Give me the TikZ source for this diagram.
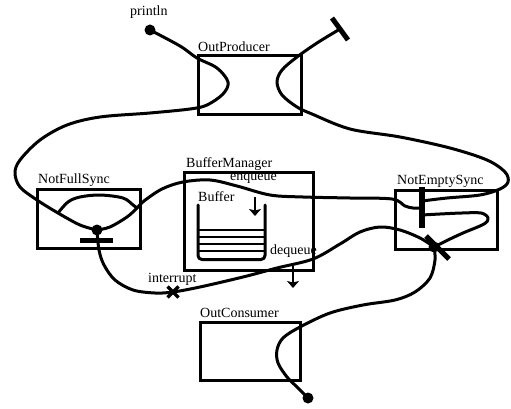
\documentclass[tikz,border=0pt]{standalone}
\usepackage{fontspec}
\setmainfont{Liberation Serif}
\usetikzlibrary{arrows.meta,calc}
\begin{document}
\begin{tikzpicture}[x=1pt,y=-1pt,
  wire/.style={line width=3pt, line cap=round, line join=round},
  frame/.style={draw, line width=3pt, inner sep=0pt, outer sep=0pt},
  lbl/.style={inner sep=0pt, font=\fontsize{14}{16}\selectfont},
  dot/.style={circle, fill, inner sep=0pt, minimum size=11pt},
  barline/.style={line width=5pt},
  flow/.style={line width=2.6pt, -{Stealth[length=7pt,width=12pt,inset=1.5pt]}},
  curve/.style={wire, smooth, tension=0.55}
]
\useasboundingbox (0,0) rectangle (511,409);

% ---- boxes ----
\node[frame, minimum width=103pt, minimum height=59pt] (prod) at (249.5,85.5) {};
\node[frame, minimum width=103pt, minimum height=59pt] (full) at (88.5,218.5) {};
\node[frame, minimum width=129pt, minimum height=98pt] (bufm) at (248.5,221) {};
\node[frame, minimum width=102pt, minimum height=59pt] (empty) at (446,219.5) {};
\node[frame, minimum width=100pt, minimum height=58pt] (cons) at (250,351) {};

% ---- box titles ----
\node[lbl, anchor=base west] at (198,52) {OutProducer};
\node[lbl, anchor=base west] at (38,183) {NotFullSync};
\node[lbl, anchor=base west] at (186,167) {BufferManager};
\node[lbl, anchor=base west] at (397,184) {NotEmptySync};
\node[lbl, anchor=base west] at (200,317) {OutConsumer};

% ---- other labels ----
\node[lbl, anchor=base west] at (130,16) {println};
\node[lbl, anchor=base west] at (230,180.5) {enqueue};
\node[lbl, anchor=base west] at (198,201) {Buffer};
\node[lbl, anchor=base west] at (270,254) {dequeue};
\node[lbl, anchor=base west] at (148,282) {interrupt};

% ---- end points ----
\coordinate (pdot) at (150,30);
\coordinate (fdot) at (97,230);
\coordinate (edot) at (434,247);
\coordinate (cdot) at (308,398);
\coordinate (pbar) at (340,29);
\coordinate (pbarA) at (332,18);
\coordinate (pbarB) at (348,40);
\coordinate (fbarA) at (80,240);
\coordinate (fbarB) at (113,240);
\coordinate (ebarA) at (422,187);
\coordinate (ebarB) at (422,228);
\coordinate (ebarT) at (422,201);
\coordinate (ebarM) at (422,208);
\coordinate (ebarL) at (422,215);
\coordinate (xbarA) at (426,236);
\coordinate (xbarB) at (449,259);
\coordinate (intr) at (173,292);

% ---- buffer ----
\draw[wire, rounded corners=4pt] (198,205) -- (198,259.5) -- (265,259.5) -- (265,205);
\foreach \yy in {230,237,244,251}
  \draw[line width=2.6pt] (198,\yy) -- (265,\yy);

% ---- enqueue / dequeue arrows ----
\draw[flow] (255,197) -- (255,216);
\draw[flow] (293,264) -- (293,288);

% ---- threads ----
% println -> OutProducer -> NotFullSync
\draw[curve] plot coordinates {(pdot) (180,46) (197,58) (217,68) (228,82) (223,94)
  (207,105) (190,109) (150,113) (100,117) (67,125) (40,140) (20,160) (15,173)
  (20,187) (37,200) (58,213) (80,225) (fdot)};
% loop inside NotFullSync
\draw[curve] plot coordinates {(58,213) (68,202) (80,197) (100,195) (123,198)
  (133,205) (137,208)};
% NotFullSync -> enqueue -> NotEmptySync
\draw[curve] plot coordinates {(fdot) (110,227) (127,217) (137,208) (144,201)
  (162,189) (183,182) (210,180) (237,186) (270,195) (303,197) (350,198)
  (392,199) (405,206) (413,208) (ebarM)};
% OutProducer (right) -> around -> NotEmptySync
\draw[curve] plot coordinates {(pbar) (317,43) (297,57) (282,70) (277,82) (282,95)
  (297,107) (312,114) (350,129) (400,137) (450,148) (487,160) (505,172) (508,182)
  (500,189) (480,195) (447,198) (ebarT)};
% NotEmptySync inner loop
\draw[curve] plot coordinates {(ebarL) (440,214) (462,213) (481,213) (488,218)
  (484,224) (463,233) (448,240) (edot)};
% interrupt / dequeue path
\draw[curve] plot coordinates {(fdot) (99,250) (104,265) (115,280) (133,290)
  (155,293) (intr) (200,287) (243,277) (277,268) (313,259) (340,244) (360,232)
  (380,227) (400,230) (420,238) (edot)};
% NotEmptySync -> OutConsumer
\draw[curve] plot coordinates {(edot) (435,260) (430,278) (415,292) (395,300)
  (363,305) (330,313) (300,327) (283,338) (277,350) (278,363) (287,377)
  (297,387) (cdot)};

% ---- bars, marks and dots ----
\draw[barline] (pbarA) -- (pbarB);
\draw[barline] (fbarA) -- (fbarB);
\draw[line width=5.5pt] (ebarA) -- (ebarB);
\draw[barline] (xbarA) -- (xbarB);
\draw[line width=3.5pt] ($(intr)+(-5.5,-5.5)$) -- ($(intr)+(5.5,5.5)$);
\draw[line width=3.5pt] ($(intr)+(-5.5,5.5)$) -- ($(intr)+(5.5,-5.5)$);
\node[dot] (pdotn) at (pdot) {};
\node[dot] (fdotn) at (fdot) {};
\node[dot] (edotn) at (edot) {};
\node[dot] (cdotn) at (cdot) {};
\end{tikzpicture}
\end{document}
